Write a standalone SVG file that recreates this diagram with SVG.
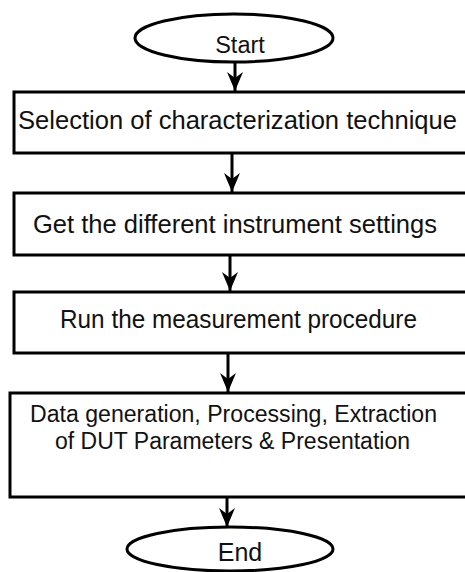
<svg xmlns="http://www.w3.org/2000/svg" width="465" height="572" viewBox="0 0 465 572">
<style>
.shape{fill:#fff;stroke:#000;stroke-width:3}
.t{font-family:"Liberation Sans",Arial,sans-serif;font-size:25px;fill:#111;text-anchor:middle}
.t4{font-size:23.5px}
.e{font-family:"Liberation Sans",Arial,sans-serif;font-size:23.5px;fill:#111;text-anchor:middle}
.c{stroke:#000;stroke-width:3;fill:none}
</style>
<defs>
<marker id="ah" markerUnits="userSpaceOnUse" markerWidth="22" markerHeight="20" viewBox="-20 -10 22 20" refX="0" refY="0" orient="auto">
<path d="M-19,-8 L0,0 L-19,8 L-13,0 Z" fill="#000"/>
</marker>
</defs>
<g id="start"><ellipse class="shape" cx="234" cy="38" rx="99" ry="24"/><text class="e" x="240" y="53">Start</text></g>
<g id="box1"><rect class="shape" x="14" y="92" width="460" height="61"/><text class="t" x="237.5" y="129" textLength="439" lengthAdjust="spacingAndGlyphs">Selection of characterization technique</text></g>
<g id="box2"><rect class="shape" x="14" y="193" width="460" height="62"/><text class="t" x="235" y="233" textLength="404" lengthAdjust="spacingAndGlyphs">Get the different instrument settings</text></g>
<g id="box3"><rect class="shape" x="14" y="292" width="460" height="61"/><text class="t" x="238.5" y="328" textLength="357" lengthAdjust="spacingAndGlyphs">Run the measurement procedure</text></g>
<g id="box4"><rect class="shape" x="10" y="393" width="464" height="104"/><text class="t t4" x="233.5" y="422" textLength="407" lengthAdjust="spacingAndGlyphs">Data generation, Processing, Extraction</text><text class="t t4" x="232.5" y="449" textLength="355" lengthAdjust="spacingAndGlyphs">of DUT Parameters &amp; Presentation</text></g>
<g id="end"><ellipse class="shape" cx="230" cy="549" rx="103" ry="22"/><text class="e" x="240" y="561" style="font-size:25px">End</text></g>
<g id="connectors">
<line class="c" x1="235" y1="62" x2="235" y2="91" marker-end="url(#ah)"/>
<line class="c" x1="232" y1="153" x2="232" y2="192" marker-end="url(#ah)"/>
<line class="c" x1="230" y1="255" x2="230" y2="291" marker-end="url(#ah)"/>
<line class="c" x1="228" y1="353" x2="228" y2="392" marker-end="url(#ah)"/>
<line class="c" x1="227" y1="497" x2="227" y2="527" marker-end="url(#ah)"/>
</g>
</svg>
